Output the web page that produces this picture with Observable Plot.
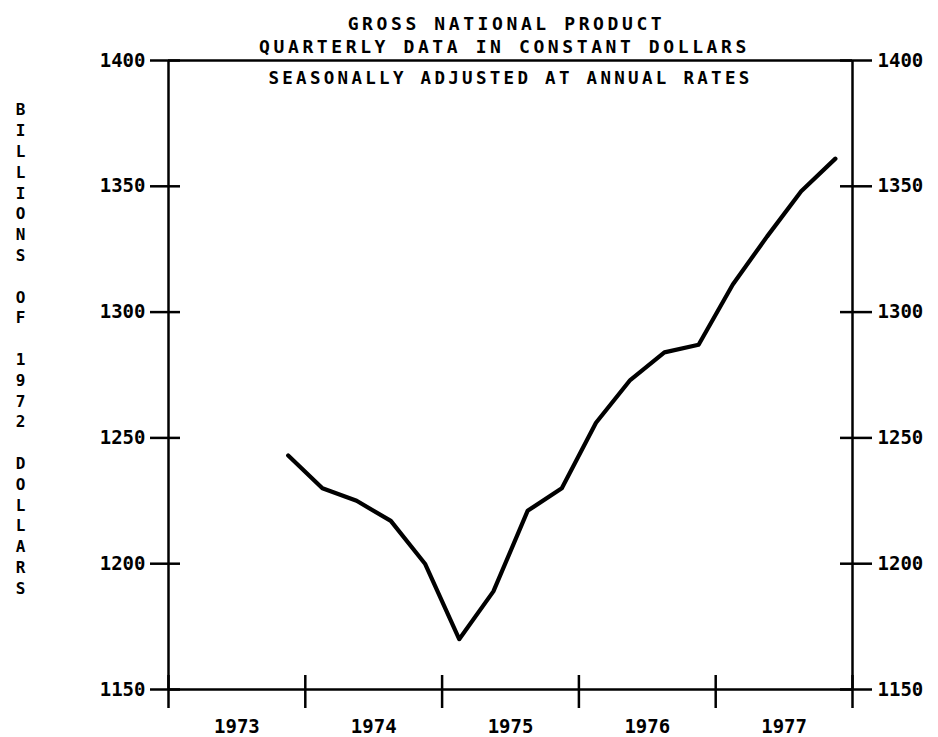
<!DOCTYPE html>
<html>
<head>
<meta charset="utf-8">
<script src="https://cdn.jsdelivr.net/npm/d3@7"></script>
<script src="https://cdn.jsdelivr.net/npm/@observablehq/plot@0.6"></script>
<style>
  html, body { margin: 0; padding: 0; background: #fff; }
  #chart svg { display: block; }
</style>
</head>
<body>
<div id="chart"></div>
<script>
// ---- data ----
const titleLines = [
  "GROSS NATIONAL PRODUCT",
  "QUARTERLY DATA IN CONSTANT DOLLARS",
  "SEASONALLY ADJUSTED AT ANNUAL RATES"
];
const yAxisTitle = "BILLIONS OF 1972 DOLLARS";
const years    = [1973, 1974, 1974, 1974, 1974, 1975, 1975, 1975, 1975, 1976, 1976, 1976, 1976, 1977, 1977, 1977, 1977];
const quarters = [4, 1, 2, 3, 4, 1, 2, 3, 4, 1, 2, 3, 4, 1, 2, 3, 4];
const gnp      = [1243, 1230, 1225, 1217, 1200, 1170, 1189, 1221, 1230, 1256, 1273, 1284, 1287, 1311, 1330, 1348, 1361];
const yTicks   = [1150, 1200, 1250, 1300, 1350, 1400];
const yearLabels = [1973, 1974, 1975, 1976, 1977];
const yearBounds = [1973, 1974, 1975, 1976, 1977, 1978];

// table: quarter mid-points on a continuous year axis
const data = years.map((y, i) => ({t: y + (quarters[i] - 0.5) / 4, v: gnp[i]}));

const mono = "DejaVu Sans Mono";
const ink = "#000";

const chart = Plot.plot({
  width: 938,
  height: 737,
  marginLeft: 168,
  marginRight: 86,
  marginTop: 60,
  marginBottom: 48,
  axis: null,
  x: {domain: [1973, 1978]},
  y: {domain: [1150, 1400]},
  style: {background: "#fff", color: ink, fontFamily: mono},
  marks: [
    // frame
    Plot.ruleX([1973, 1978], {x: d => d, y1: 1150, y2: 1400, stroke: ink, strokeWidth: 2.5}),
    Plot.ruleY([1150, 1400], {y: d => d, x1: 1973, x2: 1978, stroke: ink, strokeWidth: 2.5}),
    // y ticks crossing left & right axes
    Plot.ruleY(yTicks, {y: d => d, x1: 1973, x2: 1973, insetLeft: -18, insetRight: -12, stroke: ink, strokeWidth: 2.5}),
    Plot.ruleY(yTicks, {y: d => d, x1: 1978, x2: 1978, insetLeft: -12, insetRight: -20, stroke: ink, strokeWidth: 2.5}),
    // x ticks at year boundaries
    Plot.ruleX(yearBounds, {x: d => d, y1: 1150, y2: 1150, insetTop: -14, insetBottom: -19, stroke: ink, strokeWidth: 2.5}),
    // y tick labels
    Plot.text(yTicks, {x: 1973, y: d => d, text: d => String(d), textAnchor: "end", dx: -23,
      fontFamily: mono, fontWeight: "bold", fontSize: 19, fill: ink}),
    Plot.text(yTicks, {x: 1978, y: d => d, text: d => String(d), textAnchor: "start", dx: 25,
      fontFamily: mono, fontWeight: "bold", fontSize: 19, fill: ink}),
    // year labels
    Plot.text(yearLabels, {x: d => d + 0.5, y: 1150, text: d => String(d), dy: 37,
      fontFamily: mono, fontWeight: "bold", fontSize: 19, fill: ink}),
    // data line
    Plot.line(data, {x: "t", y: "v", stroke: ink, strokeWidth: 4.2, strokeLinejoin: "round", strokeLinecap: "round"}),
    // titles
    Plot.text([titleLines[0]], {frameAnchor: "top", dy: -43, dx: -4, fontFamily: mono, fontWeight: "bold", fontSize: 18, fill: ink}),
    Plot.text([titleLines[1]], {frameAnchor: "top", dy: -20, dx: -6, fontFamily: mono, fontWeight: "bold", fontSize: 18, fill: ink}),
    Plot.text([titleLines[2]], {frameAnchor: "top", dy: 11, dx: 0, fontFamily: mono, fontWeight: "bold", fontSize: 17.5, fill: ink}),
    // vertical stacked y-axis title
    Plot.text([yAxisTitle.split("").join("\n")], {frameAnchor: "left", dx: -148, dy: -27, textAnchor: "middle",
      lineAnchor: "middle", lineHeight: 1.3, fontFamily: mono, fontWeight: "bold", fontSize: 16, fill: ink})
  ]
});
// widen the title lettering like the plotter font
d3.select(chart).selectAll("text")
  .filter(function () { return titleLines.includes(this.textContent); })
  .style("letter-spacing", function () { return this.textContent === titleLines[2] ? "3.3px" : "3.6px"; });
document.getElementById("chart").appendChild(chart);
</script>
</body>
</html>
